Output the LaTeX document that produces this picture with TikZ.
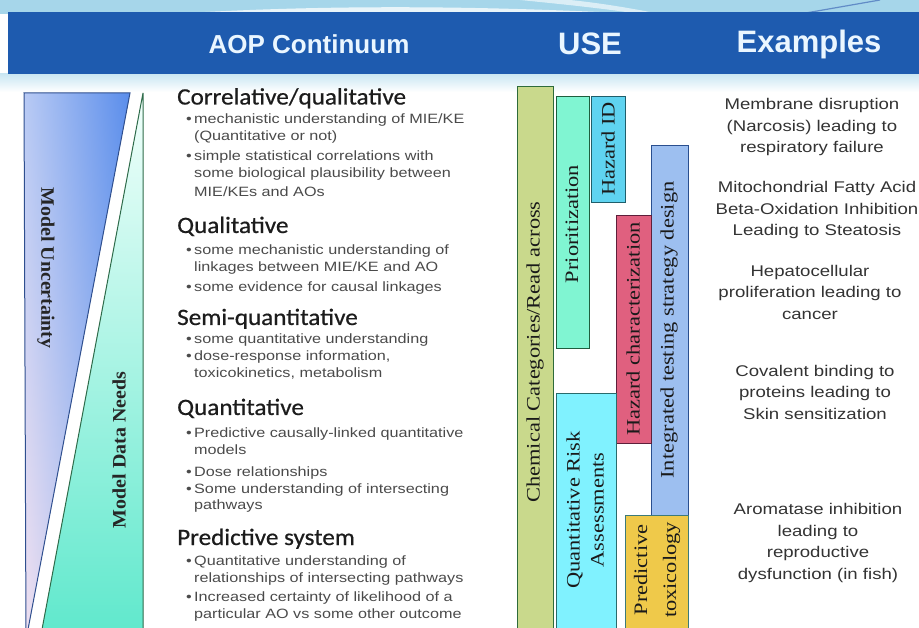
\documentclass[tikz,border=0pt]{standalone}
\usepackage{fontspec}
\usetikzlibrary{shadings}
\setmainfont{Liberation Serif}
\newfontfamily\barfont{Liberation Serif}[FakeStretch=1.18]
\newfontfamily\headfont{Carlito}[FakeStretch=1.07,FakeBold=0.6]
\newfontfamily\widesans{Liberation Sans}[FakeStretch=1.2]
\newfontfamily\hdrfont{Liberation Sans}
\newfontfamily\sidefont{Liberation Serif}[FakeStretch=1.05]
\definecolor{cSky}{HTML}{A6D6EA}
\definecolor{cHdr}{HTML}{1E5BAF}
\definecolor{cHdrT}{HTML}{EAF6FF}
\definecolor{cBul}{HTML}{4A4A4A}
\definecolor{cHead}{HTML}{1C1C1C}
\definecolor{cEx}{HTML}{333333}
\definecolor{cBarT}{HTML}{1A1A1A}
\definecolor{cChem}{HTML}{C9D98C}
\definecolor{bChem}{HTML}{2E6B3A}
\definecolor{cPrio}{HTML}{80F5D2}
\definecolor{bPrio}{HTML}{1E5E3E}
\definecolor{cHzid}{HTML}{5FD3F0}
\definecolor{bHzid}{HTML}{1F5E6B}
\definecolor{cInteg}{HTML}{9DBFF0}
\definecolor{bInteg}{HTML}{2A4F8F}
\definecolor{cHzch}{HTML}{E0607F}
\definecolor{bHzch}{HTML}{5E1F3A}
\definecolor{cQra}{HTML}{80F2FF}
\definecolor{bQra}{HTML}{2A6B6B}
\definecolor{cPred}{HTML}{EFC94A}
\definecolor{bPred}{HTML}{3C7A7A}
\definecolor{cUncA}{HTML}{B8CAF4}
\definecolor{cUncB}{HTML}{5A8DEB}
\definecolor{cUncC}{HTML}{F0E0F0}
\definecolor{cUncD}{HTML}{86AEF0}
\definecolor{bUnc}{HTML}{2F4F8F}
\definecolor{cAqA}{HTML}{F2FFFB}
\definecolor{cAqB}{HTML}{5EE8CC}
\definecolor{bAq}{HTML}{2E6B4A}
\tikzset{
  bul/.style={anchor=base west, inner sep=0pt, font=\widesans\fontsize{13.5}{16}\selectfont, text=cBul},
  hd/.style={anchor=base west, inner sep=0pt, font=\headfont\fontsize{23.5}{26}\selectfont, text=cHead},
  ex/.style={align=center, inner sep=0pt, font=\widesans\fontsize{15.5}{21.5}\selectfont, text=cEx},
  bartext/.style={rotate=90, inner sep=0pt, align=center, font=\barfont\fontsize{19}{24}\selectfont, text=cBarT},
  barbox/.style={anchor=north west, line width=1.2pt, inner sep=0pt},
  sidetext/.style={inner sep=0pt, font=\sidefont\bfseries\fontsize{19}{21}\selectfont, text=black!85},
  hdrtext/.style={inner sep=0pt, text=cHdrT, font=\hdrfont\bfseries}
}
\begin{document}
\begin{tikzpicture}[x=1pt,y=-1pt]
\useasboundingbox (0,0) rectangle (919,628);
\clip (0,0) rectangle (919,628);
% top band
\fill[cSky] (0,0) rectangle (919,14);
\fill[white,opacity=0.75] (170,14) .. controls (300,6) and (450,4) .. (640,14) -- cycle;
\fill[white,opacity=0.6] (520,0) .. controls (560,4) and (600,8) .. (640,14) -- (660,14) .. controls (620,6) and (590,2) .. (570,0) -- cycle;
\draw[cHdr!70,line width=1.2pt] (800,14) -- (880,0);
\shade[top color=cSky!60, bottom color=white] (0,74) rectangle (919,92);
% header bar
\node[fill=cHdr, minimum width=911pt, minimum height=62pt, anchor=north west, inner sep=0pt] (hdr) at (8,12) {};
\node[hdrtext, font=\hdrfont\bfseries\fontsize{26}{28}\selectfont] (hA) at (309,44) {AOP Continuum};
\node[hdrtext, font=\hdrfont\bfseries\fontsize{31}{33}\selectfont] (hU) at (590,44) {USE};
\node[hdrtext, font=\hdrfont\bfseries\fontsize{31}{33}\selectfont] (hE) at (809,44) {Examples};
% left triangles
\begin{scope}
  \clip (24,93) -- (130,93) -- (26,640) -- cycle;
  \shade[upper left=cUncA, upper right=cUncB, lower left=cUncC, lower right=cUncD] (24,93) rectangle (130,640);
\end{scope}
\draw[bUnc, line width=1pt] (26,640) -- (24,93) -- (130,93) -- (26,640);
\begin{scope}
  \clip (143,93) -- (143,640) -- (40,640) -- cycle;
  \shade[top color=cAqA, bottom color=cAqB] (40,93) rectangle (143,640);
\end{scope}
\draw[bAq, line width=1pt] (40,640) -- (143,93) -- (143,640);
\node[sidetext, rotate=-90] (unc) at (46,268) {Model Uncertainty};
\node[sidetext, rotate=90] (dn) at (119,450) {Model Data Needs};
% AOP continuum text
\node[hd] (h1) at (177,104.5) {Correlative/qualitative};
\node[bul] (l1) at (186,124) {\makebox[8pt][l]{•}mechanistic understanding of MIE/KE};
\node[bul] (l2) at (194,141) {(Quantitative or not)};
\node[bul] (l3) at (186,161) {\makebox[8pt][l]{•}simple statistical correlations with};
\node[bul] (l4) at (194,178) {some biological plausibility between};
\node[bul] (l5) at (194,197) {MIE/KEs and AOs};
\node[hd] (h2) at (177,233) {Qualitative};
\node[bul] (l6) at (186,255) {\makebox[8pt][l]{•}some mechanistic understanding of};
\node[bul] (l7) at (194,272) {linkages between MIE/KE and AO};
\node[bul] (l8) at (186,292) {\makebox[8pt][l]{•}some evidence for causal linkages};
\node[hd] (h3) at (177,325) {Semi-quantitative};
\node[bul] (l9) at (186,344) {\makebox[8pt][l]{•}some quantitative understanding};
\node[bul] (l10) at (186,361) {\makebox[8pt][l]{•}dose-response information,};
\node[bul] (l11) at (194,378) {toxicokinetics, metabolism};
\node[hd] (h4) at (177,415) {Quantitative};
\node[bul] (l12) at (186,437) {\makebox[8pt][l]{•}Predictive causally-linked quantitative};
\node[bul] (l13) at (194,454) {models};
\node[bul] (l14) at (186,476) {\makebox[8pt][l]{•}Dose relationships};
\node[bul] (l15) at (186,493) {\makebox[8pt][l]{•}Some understanding of intersecting};
\node[bul] (l16) at (194,509) {pathways};
\node[hd] (h5) at (177,545) {Predictive system};
\node[bul] (l17) at (186,565) {\makebox[8pt][l]{•}Quantitative understanding of};
\node[bul] (l18) at (194,582) {relationships of intersecting pathways};
\node[bul] (l19) at (186,601) {\makebox[8pt][l]{•}Increased certainty of likelihood of a};
\node[bul] (l20) at (194,618) {particular AO vs some other outcome};
% USE bars
\node[barbox, fill=cChem, draw=bChem, minimum width=36pt, minimum height=560pt] (chem) at (517,86) {};
\node[barbox, fill=cPrio, draw=bPrio, minimum width=33pt, minimum height=252pt] (prio) at (556,96) {};
\node[barbox, fill=cHzid, draw=bHzid, minimum width=34pt, minimum height=106pt] (hzid) at (591,96) {};
\node[barbox, fill=cInteg, draw=bInteg, minimum width=37pt, minimum height=370pt] (integ) at (651,145) {};
\node[barbox, fill=cHzch, draw=bHzch, minimum width=35pt, minimum height=228pt] (hzch) at (616,215) {};
\node[barbox, fill=cQra, draw=bQra, minimum width=60pt, minimum height=250pt] (qra) at (556,393) {};
\node[barbox, fill=cPred, draw=bPred, minimum width=63pt, minimum height=130pt] (pred) at (625,515) {};
\node[bartext] (chemT) at (535,352) {Chemical Categories/Read across};
\node[bartext] (prioT) at (572,224) {Prioritization};
\node[bartext] (hzidT) at (608,149) {Hazard ID};
\node[bartext] (integT) at (669,330) {Integrated testing strategy design};
\node[bartext] (hzchT) at (633,329) {Hazard characterization};
\node[bartext] (qraT) at (585,510) {Quantitative Risk\\Assessments};
\node[bartext, font=\barfont\fontsize{19}{29}\selectfont] (predT) at (657,570) {Predictive\\toxicology};
% examples
\node[ex] (e1) at (812,127) {Membrane disruption\\(Narcosis) leading to\\respiratory failure};
\node[ex] (e2) at (817,210) {Mitochondrial Fatty Acid\\Beta-Oxidation Inhibition\\Leading to Steatosis};
\node[ex] (e3) at (810,292) {Hepatocellular\\proliferation leading to\\cancer};
\node[ex] (e4) at (815,392) {Covalent binding to\\proteins leading to\\Skin sensitization};
\node[ex] (e5) at (818,543) {Aromatase inhibition\\leading to\\reproductive\\dysfunction (in fish)};
\end{tikzpicture}
\end{document}
